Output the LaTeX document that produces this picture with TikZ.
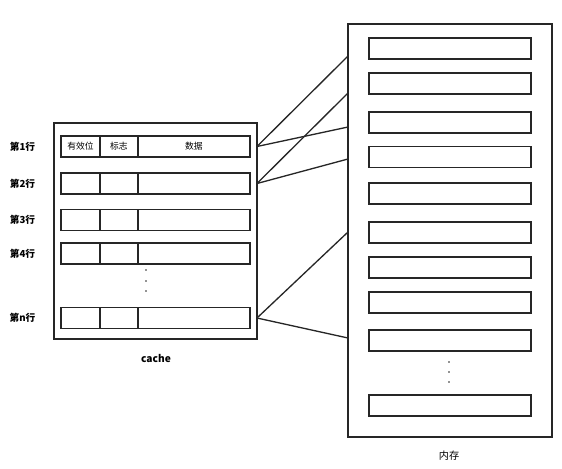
\documentclass[tikz,border=0pt]{standalone}
\usepackage{fontspec}
\newfontfamily\cjk{Noto Sans CJK SC}
\usetikzlibrary{positioning}

\begin{document}
\begin{tikzpicture}[
  x=0.02cm,y=-0.02cm,font=\cjk,
  frame/.style={draw=black!85,line width=0.8pt,inner sep=0pt,outer sep=0pt},
  cell/.style={draw=black!85,line width=0.8pt,inner sep=0pt,outer sep=0pt,
    minimum height=0.42cm,font=\cjk\fontsize{5}{6}\selectfont},
  slot/.style={cell,minimum width=3.24cm},
  link/.style={draw=black!85,line width=0.75pt},
  rowlabel/.style={font=\cjk\bfseries\fontsize{5.5}{6.4}\selectfont},
  caption/.style={font=\cjk\bfseries\fontsize{5.8}{6.6}\selectfont}
]
\useasboundingbox (0,0) rectangle (562,468);

% cache with its lines
\node[frame,minimum width=4.06cm,minimum height=4.32cm] (cache) at (155.5,231) {};
\node[caption] (cachename) at (156,358) {cache};

\node[cell,anchor=west,minimum width=0.78cm] (v1) at (61,146.5) {有效位};
\node[cell,minimum width=0.76cm,right=0pt of v1] (t1) {标志};
\node[cell,minimum width=2.24cm,right=0pt of t1] (d1) {数据};
\foreach \i/\y in {2/183.5,3/220,4/253.5,n/318}{
  \node[cell,anchor=west,minimum width=0.78cm] (v\i) at (61,\y) {};
  \node[cell,minimum width=0.76cm,right=0pt of v\i] (t\i) {};
  \node[cell,minimum width=2.24cm,right=0pt of t\i] (d\i) {};
}
\foreach \i/\y in {1/146.5,2/183.5,3/220,4/253.5,n/318}
  \node[rowlabel] (l\i) at (22.5,\y) {第\i{}行};
\foreach \y in {270,281,291}
  \fill[black!85] (146,\y) circle (0.8);

% main memory
\node[frame,minimum width=4.08cm,minimum height=8.26cm] (mem) at (450,230.5) {};
\node[caption,font=\cjk\fontsize{5.8}{6.6}\selectfont] (memname) at (449,456) {内存};
\foreach \i/\y in {1/48.5,2/83.5,3/122.5,4/157,5/193.5,6/232.5,7/267.5,8/302.5,9/340.5,10/405.5}
  \node[slot] (m\i) at (450,\y) {};
\foreach \y in {362,372,382}
  \fill[black!85] (449,\y) circle (0.8);

% mapping lines
\coordinate (c1) at (cache.east |- d1);
\coordinate (c2) at (cache.east |- d2);
\coordinate (cn) at (cache.east |- dn);
\coordinate (a1) at (348,56);
\coordinate (a2) at (348,93);
\coordinate (a3) at (348,127);
\coordinate (a4) at (348,159);
\coordinate (a5) at (348,232);
\coordinate (a6) at (348,338);
\draw[link] (c1) -- (a1);
\draw[link] (c1) -- (a3);
\draw[link] (c2) -- (a2);
\draw[link] (c2) -- (a4);
\draw[link] (cn) -- (a5);
\draw[link] (cn) -- (a6);

\end{tikzpicture}
\end{document}
